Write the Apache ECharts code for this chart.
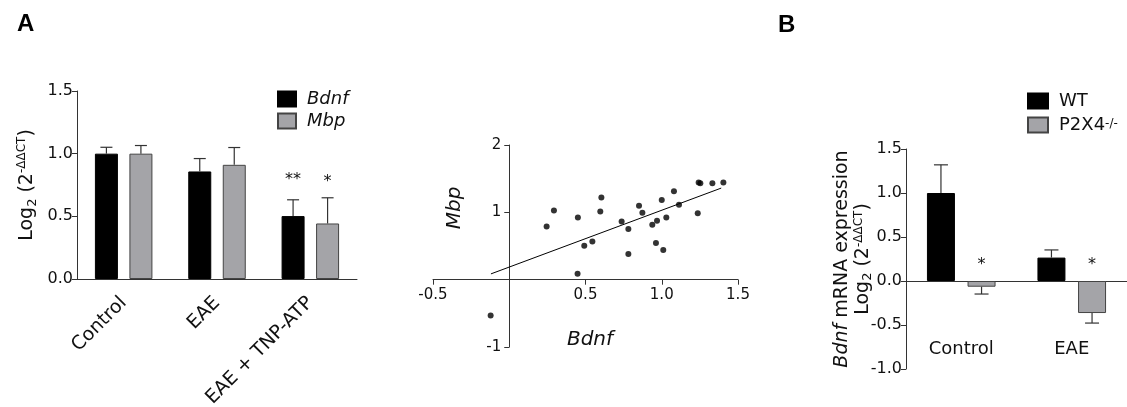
<!DOCTYPE html>
<html>
<head>
<meta charset="utf-8">
<script src="https://cdn.jsdelivr.net/npm/echarts@6/dist/echarts.min.js"></script>
<style>
  html, body { margin: 0; padding: 0; background: #fff; }
  #chart { width: 1127px; height: 407px; }
</style>
</head>
<body>
<div id="chart"></div>
<script>
// panel A - bars
var groupsA = ['Control', 'EAE', 'EAE + TNP-ATP']
var bdnfMean = [1.0, 0.858, 0.502]
var bdnfErr = [1.051, 0.961, 0.632]
var mbpMean = [1.0, 0.911, 0.443]
var mbpErr = [1.065, 1.049, 0.648]
var bdnfStars = ['', '', '**']
var mbpStars = ['', '', '*']

// panel A - correlation (Bdnf vs Mbp)
var corrX = [-0.122, 0.245, 0.293, 0.448, 0.45, 0.492, 0.545, 0.597, 0.604, 0.737, 0.781, 0.781, 0.851, 0.873,
  0.938, 0.962, 0.969, 1.0, 1.01, 1.03, 1.08, 1.113, 1.236, 1.242, 1.253, 1.332, 1.404]
var corrY = [-0.533, 0.79, 1.027, 0.089, 0.923, 0.504, 0.568, 1.012, 1.22, 0.864, 0.751, 0.38, 1.096, 0.993,
  0.815, 0.543, 0.874, 1.185, 0.44, 0.923, 1.314, 1.111, 0.988, 1.442, 1.432, 1.432, 1.442]
var fitX = [-0.12, 1.39]
var fitY = [0.086, 1.36]

// panel B - bars
var groupsB = ['Control', 'EAE']
var wtMean = [1.0, 0.266]
var wtErr = [1.32, 0.353]
var koMean = [-0.065, -0.364]
var koErr = [-0.148, -0.478]
var wtStars = ['', '']
var koStars = ['*', '*']

var FONT = 'DejaVu Sans'
var AXIS = '#333'
var GREY = '#a4a4a8'

function errorBars(stars, offset, cap, starGap) {
  return function (params, api) {
    var i = api.value(0)
    var base = api.coord([i, api.value(1)])
    var end = api.coord([i, api.value(2)])
    var zero = api.coord([i, 0])
    var x = base[0] + offset
    var top = Math.min(base[1], end[1], zero[1])
    return {
      type: 'group',
      children: [
        { type: 'line', shape: { x1: x, y1: base[1], x2: x, y2: end[1] }, style: { stroke: AXIS, lineWidth: 1.2 } },
        { type: 'line', shape: { x1: x - cap / 2, y1: end[1], x2: x + cap / 2, y2: end[1] }, style: { stroke: AXIS, lineWidth: 1.2 } },
        { type: 'text', x: x, y: top - starGap, style: { text: stars[params.dataIndex], font: '16px ' + FONT, fill: '#111', align: 'center', verticalAlign: 'middle' } }
      ]
    }
  }
}

function pack(means, ends) {
  return means.map(function (m, i) { return [i, m, ends[i]] })
}

var chart = echarts.init(document.getElementById('chart'))

var subSup = {
  sub: { fontSize: 13, verticalAlign: 'bottom', padding: [10, 0, 0, 0] },
  sup: { fontSize: 12, verticalAlign: 'top', padding: [0, 0, 8, 0] }
}

var option = {
  animation: false,
  textStyle: { fontFamily: FONT },
  graphic: [
    { type: 'text', left: 17, top: 12, style: { text: 'A', font: 'bold 24px Liberation Sans', fill: '#000' } },
    { type: 'text', left: 778, top: 13, style: { text: 'B', font: 'bold 24px Liberation Sans', fill: '#000' } },
    { type: 'text', x: 455, y: 208, rotation: Math.PI / 2, style: { text: 'Mbp', font: 'italic 20px ' + FONT, fill: '#111', align: 'center', verticalAlign: 'middle' } },
    { type: 'text', x: 590, y: 340, style: { text: 'Bdnf', font: 'italic 20px ' + FONT, fill: '#111', align: 'center', verticalAlign: 'middle' } }
  ],
  legend: [
    {
      data: ['Bdnf', 'Mbp'], orient: 'vertical', left: 277, top: 90, padding: 0,
      itemWidth: 18, itemHeight: 15, itemGap: 4, icon: 'rect',
      textStyle: { fontSize: 18, fontStyle: 'italic', color: '#111', lineHeight: 15, padding: [0, 0, 0, 6] }
    },
    {
      data: ['WT', 'P2X4'], orient: 'vertical', left: 1027, top: 92, padding: 0,
      itemWidth: 20, itemHeight: 15, itemGap: 6, icon: 'rect',
      formatter: function (n) { return n === 'P2X4' ? 'P2X4{sup|-/-}' : n },
      textStyle: { fontSize: 18, color: '#111', lineHeight: 15, padding: [0, 0, 0, 6],
        rich: { sup: { fontSize: 12, verticalAlign: 'top', padding: [0, 0, 8, 0] } } }
    }
  ],
  grid: [
    { left: 77, top: 91, width: 280, height: 188, outerBoundsMode: 'none' },
    { left: 433, top: 145, width: 305, height: 202, outerBoundsMode: 'none' },
    { left: 906, top: 149, width: 221, height: 220, outerBoundsMode: 'none' }
  ],
  xAxis: [
    {
      gridIndex: 0, type: 'category', data: groupsA,
      axisLine: { lineStyle: { color: AXIS } }, axisTick: { show: false },
      axisLabel: { rotate: 45, margin: 21, fontSize: 19, color: '#111' }
    },
    {
      gridIndex: 1, type: 'value', min: -0.5, max: 1.5, interval: 0.5,
      splitLine: { show: false }, offset: -67.3,
      axisLine: { onZero: false, lineStyle: { color: AXIS } },
      axisTick: { show: true, length: 5 },
      axisLabel: { fontSize: 15, color: '#111', margin: 8, formatter: function (v) { return v === 0 ? '' : v.toFixed(1) } }
    },
    {
      gridIndex: 2, type: 'category', data: groupsB, offset: -88,
      axisLine: { onZero: false, lineStyle: { color: AXIS } }, axisTick: { show: false },
      axisLabel: { margin: 59, fontSize: 18, color: '#111' }
    }
  ],
  yAxis: [
    {
      gridIndex: 0, type: 'value', min: 0, max: 1.5, interval: 0.5,
      splitLine: { show: false },
      axisLine: { show: true, lineStyle: { color: AXIS } },
      axisTick: { show: true, length: 5 },
      axisLabel: { fontSize: 16, color: '#111', margin: 4, formatter: function (v) { return v.toFixed(1) } },
      name: 'Log{sub|2} (2{sup|-ΔΔCT})', nameLocation: 'middle', nameGap: 38, nameRotate: 90, nameMoveOverlap: false,
      nameTextStyle: { fontSize: 19, color: '#111', rich: subSup }
    },
    {
      gridIndex: 1, type: 'value', min: -1, max: 2, interval: 1,
      splitLine: { show: false }, offset: -76.25,
      axisLine: { show: true, onZero: false, lineStyle: { color: AXIS } },
      axisTick: { show: true, length: 5 },
      axisLabel: { fontSize: 15, color: '#111', margin: 8, formatter: function (v) { return v === 0 ? '' : String(v) } }
    },
    {
      gridIndex: 2, type: 'value', min: -1, max: 1.5, interval: 0.5,
      splitLine: { show: false },
      axisLine: { show: true, onZero: false, lineStyle: { color: AXIS } },
      axisTick: { show: true, length: 5 },
      axisLabel: { fontSize: 16, color: '#111', margin: 4, formatter: function (v) { return v.toFixed(1) } },
      name: '{i|Bdnf} mRNA expression\nLog{sub|2} (2{sup|-ΔΔCT})', nameLocation: 'middle', nameGap: 32, nameRotate: 90, nameMoveOverlap: false,
      nameTextStyle: { fontSize: 19, color: '#111', lineHeight: 21, align: 'center',
        rich: { i: { fontStyle: 'italic', fontSize: 19 }, sub: subSup.sub, sup: subSup.sup } }
    }
  ],
  series: [
    { name: 'Bdnf', type: 'bar', xAxisIndex: 0, yAxisIndex: 0, data: bdnfMean, barWidth: 23, barGap: '50%',
      itemStyle: { color: '#000', borderColor: '#000', borderWidth: 1 } },
    { name: 'Mbp', type: 'bar', xAxisIndex: 0, yAxisIndex: 0, data: mbpMean, barWidth: 23, barGap: '50%',
      itemStyle: { color: GREY, borderColor: '#444', borderWidth: 1 } },
    { type: 'custom', xAxisIndex: 0, yAxisIndex: 0, data: pack(bdnfMean, bdnfErr), z: 3,
      renderItem: errorBars(bdnfStars, -17.25, 12, 20) },
    { type: 'custom', xAxisIndex: 0, yAxisIndex: 0, data: pack(mbpMean, mbpErr), z: 3,
      renderItem: errorBars(mbpStars, 17.25, 12, 16) },

    { type: 'scatter', xAxisIndex: 1, yAxisIndex: 1, symbolSize: 6, itemStyle: { color: '#000' },
      data: corrX.map(function (x, i) { return [x, corrY[i]] }) },
    { type: 'line', xAxisIndex: 1, yAxisIndex: 1, symbol: 'none', lineStyle: { color: '#000', width: 1 },
      data: fitX.map(function (x, i) { return [x, fitY[i]] }) },

    { name: 'WT', type: 'bar', xAxisIndex: 2, yAxisIndex: 2, data: wtMean, barWidth: 28, barGap: '45%',
      itemStyle: { color: '#000', borderColor: '#000', borderWidth: 1 } },
    { name: 'P2X4', type: 'bar', xAxisIndex: 2, yAxisIndex: 2, data: koMean, barWidth: 28, barGap: '45%',
      itemStyle: { color: GREY, borderColor: '#444', borderWidth: 1 } },
    { type: 'custom', xAxisIndex: 2, yAxisIndex: 2, data: pack(wtMean, wtErr), z: 3,
      renderItem: errorBars(wtStars, -20.3, 14, 16) },
    { type: 'custom', xAxisIndex: 2, yAxisIndex: 2, data: pack(koMean, koErr), z: 3,
      renderItem: errorBars(koStars, 20.3, 14, 16) }
  ]
}

chart.setOption(option)
</script>
</body>
</html>
